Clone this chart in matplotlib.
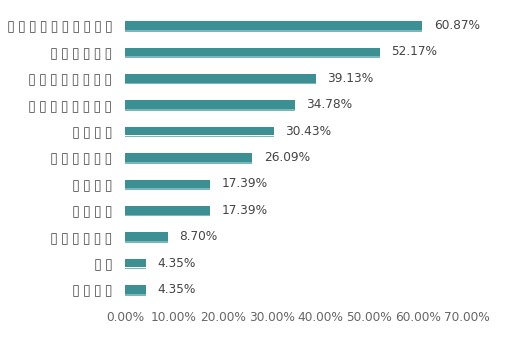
import matplotlib
matplotlib.use("Agg")
import matplotlib.pyplot as plt
from matplotlib.ticker import FuncFormatter

char_counts = [10, 6, 8, 8, 4, 6, 4, 4, 6, 2, 4]
categories = ["\u2009".join(["\u25af"] * n) for n in char_counts]
values = [60.87, 52.17, 39.13, 34.78, 30.43, 26.09, 17.39, 17.39, 8.70, 4.35, 4.35]
xticks = [0, 10, 20, 30, 40, 50, 60, 70]

bar_color = "#3c8f93"
shadow_color = "#79b8ba"

fig = plt.figure(figsize=(5.07, 3.42), dpi=100)
ax = fig.add_axes([125/507, 1-302.7/342, (467-125)/507, (302.7-12.3)/342])

ypos = list(range(len(values)))
ax.barh(ypos, values, height=0.32, color=bar_color, zorder=3)
ax.barh([y + 0.2 for y in ypos], values, height=0.06, color=shadow_color, zorder=2)

for y, v in zip(ypos, values):
    ax.text(v + 2.3, y, f"{v:.2f}%", va="center", ha="left", fontsize=8.7, color="#444444")

ax.set_xlim(0, 70)
ax.set_ylim(len(values) - 0.5, -0.5)
ax.set_xticks(xticks)
ax.xaxis.set_major_formatter(FuncFormatter(lambda x, p: f"{x:.2f}%"))
ax.set_yticks(ypos)
ax.set_yticklabels(categories)
ax.tick_params(axis="x", length=0, pad=6, labelsize=8.7, labelcolor="#666666")
ax.tick_params(axis="y", length=0, pad=9, labelsize=10.5, labelcolor="#555555")
for s in ax.spines.values():
    s.set_visible(False)

fig.savefig("out.png", dpi=100)
